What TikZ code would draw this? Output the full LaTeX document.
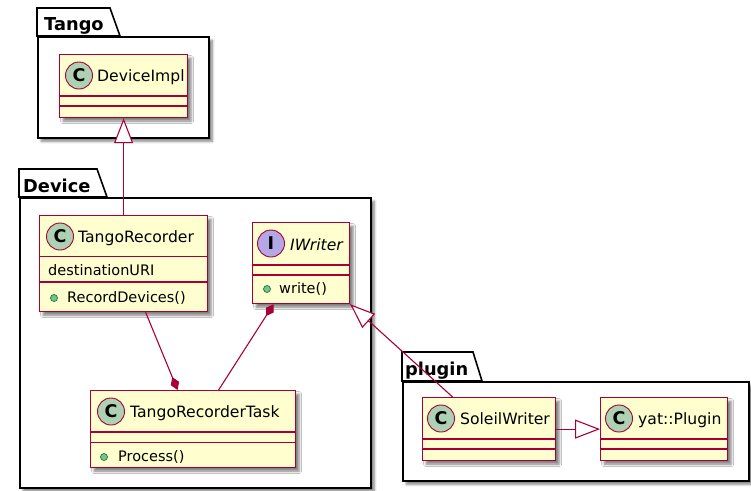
\documentclass[tikz,border=0pt]{standalone}
\usepackage{fontspec}
\setmainfont{DejaVu Sans}
\usetikzlibrary{arrows.meta,shadows.blur,calc}

\definecolor{clsfill}{HTML}{FEFECE}
\definecolor{clsline}{HTML}{A80036}
\definecolor{cspot}{HTML}{ADD1B2}
\definecolor{ispot}{HTML}{B4A7E5}
\definecolor{pubfill}{HTML}{84BE84}
\definecolor{publine}{HTML}{038048}

\begin{document}
\begin{tikzpicture}[x=1pt,y=-1pt,
  softshadow/.style={blur shadow={shadow xshift=3.5pt, shadow yshift=-3.5pt,
      shadow blur radius=2.5pt, shadow opacity=50}},
  pkgbody/.style={draw=black, fill=white, line width=1.6pt, anchor=north west,
      inner sep=0pt, softshadow},
  pkgtab/.style={draw=black, fill=white, line width=1.6pt},
  pkglabel/.style={font=\bfseries\fontsize{17.8}{19}\selectfont, anchor=base west, inner sep=0pt},
  cls/.style={draw=clsline, fill=clsfill, line width=1.2pt, anchor=north west,
      inner sep=0pt, softshadow},
  sep/.style={draw=clsline, line width=1.2pt},
  spot/.style={circle, draw=clsline, line width=0.9pt, minimum size=27pt, inner sep=0pt,
      font=\bfseries\fontsize{17.5}{18}\selectfont},
  clsname/.style={font=\fontsize{15.6}{18}\selectfont, anchor=base west, inner sep=0pt},
  member/.style={font=\fontsize{14.5}{16}\selectfont, anchor=base west, inner sep=0pt},
  pub/.style={circle, draw=publine, fill=pubfill, line width=0.7pt, minimum size=7pt, inner sep=0pt},
  assoc/.style={draw=clsline, line width=1.1pt},
  gen/.style={assoc, -{Triangle[fill=white, length=25pt, width=19pt]}},
  comp/.style={assoc, -{Diamond[length=14pt, width=9pt]}},
]
\useasboundingbox (0,0) rectangle (751,490);

% ---------- packages ----------
\draw[pkgtab] (37,36) -- (37,8) -- (110,8) -- (120,36) -- cycle;
\node[pkgbody, minimum width=171pt, minimum height=101pt] (pkgTango) at (37,36) {};
\node[pkglabel] (lblTango) at (44,30) {Tango};

\draw[pkgtab] (19,197) -- (19,169) -- (97,169) -- (107,197) -- cycle;
\node[pkgbody, minimum width=351pt, minimum height=290pt] (pkgDevice) at (19,197) {};
\node[pkglabel] (lblDevice) at (23,192) {Device};

\draw[pkgtab] (402,381) -- (402,352) -- (473,352) -- (482,381) -- cycle;
\node[pkgbody, minimum width=346pt, minimum height=99pt] (pkgPlugin) at (402,381) {};
\node[pkglabel] (lblPlugin) at (405,375) {plugin};

% ---------- classes ----------
% DeviceImpl
\node[cls, minimum width=128pt, minimum height=63pt] (di) at (59,54) {};
\draw[sep] ($(di.north west)+(0,42)$) -- ($(di.north east)+(0,42)$);
\draw[sep] ($(di.north west)+(0,52)$) -- ($(di.north east)+(0,52)$);
\node[spot, fill=cspot] (diSpot) at ($(di.north west)+(20,21.5)$) {C};
\node[clsname] (diName) at ($(di.north west)+(38,27.5)$) {DeviceImpl};

% TangoRecorder
\node[cls, minimum width=168pt, minimum height=96pt] (tr) at (39,215) {};
\draw[sep] ($(tr.north west)+(0,41.5)$) -- ($(tr.north east)+(0,41.5)$);
\draw[sep] ($(tr.north west)+(0,67)$) -- ($(tr.north east)+(0,67)$);
\node[spot, fill=cspot] (trSpot) at ($(tr.north west)+(21,21.5)$) {C};
\node[clsname] (trName) at ($(tr.north west)+(39,27.5)$) {TangoRecorder};
\node[member] (trAttr) at ($(tr.north west)+(9,60)$) {destinationURI};
\node[pub] (trDot) at ($(tr.north west)+(15,83)$) {};
\node[member] (trOp) at ($(tr.north west)+(28,87.5)$) {RecordDevices()};

% IWriter
\node[cls, minimum width=97pt, minimum height=81pt] (iw) at (252,222) {};
\draw[sep] ($(iw.north west)+(0,43)$) -- ($(iw.north east)+(0,43)$);
\draw[sep] ($(iw.north west)+(0,53)$) -- ($(iw.north east)+(0,53)$);
\node[spot, fill=ispot] (iwSpot) at ($(iw.north west)+(19,21.5)$) {I};
\node[clsname, font=\itshape\fontsize{15.6}{18}\selectfont] (iwName) at ($(iw.north west)+(38,28)$) {IWriter};
\node[pub] (iwDot) at ($(iw.north west)+(15,67)$) {};
\node[member] (iwOp) at ($(iw.north west)+(27,71.5)$) {write()};

% TangoRecorderTask
\node[cls, minimum width=205pt, minimum height=77pt] (trt) at (90,390) {};
\draw[sep] ($(trt.north west)+(0,42)$) -- ($(trt.north east)+(0,42)$);
\draw[sep] ($(trt.north west)+(0,52.5)$) -- ($(trt.north east)+(0,52.5)$);
\node[spot, fill=cspot] (trtSpot) at ($(trt.north west)+(21,21.5)$) {C};
\node[clsname] (trtName) at ($(trt.north west)+(40,27.5)$) {TangoRecorderTask};
\node[pub] (trtDot) at ($(trt.north west)+(14,67)$) {};
\node[member] (trtOp) at ($(trt.north west)+(28,71.5)$) {Process()};

% SoleilWriter
\node[cls, minimum width=133pt, minimum height=63pt] (sw) at (422,397) {};
\draw[sep] ($(sw.north west)+(0,42)$) -- ($(sw.north east)+(0,42)$);
\draw[sep] ($(sw.north west)+(0,52)$) -- ($(sw.north east)+(0,52)$);
\node[spot, fill=cspot] (swSpot) at ($(sw.north west)+(19,21.5)$) {C};
\node[clsname] (swName) at ($(sw.north west)+(38,27.5)$) {SoleilWriter};

% yat::Plugin
\node[cls, minimum width=127pt, minimum height=63pt] (yp) at (600,397) {};
\draw[sep] ($(yp.north west)+(0,42)$) -- ($(yp.north east)+(0,42)$);
\draw[sep] ($(yp.north west)+(0,52)$) -- ($(yp.north east)+(0,52)$);
\node[spot, fill=cspot] (ypSpot) at ($(yp.north west)+(19,21.5)$) {C};
\node[clsname] (ypName) at ($(yp.north west)+(38,27.5)$) {yat::Plugin};

% ---------- relations ----------
\draw[gen] (tr.north) -- (di.south);
\draw[comp] ($(tr.south)+(22,0)$) -- ($(trt.north)+(-15.5,0)$);
\draw[comp] ($(trt.north)+(25.5,0)$) -- ($(iw.south)+(-27.5,0)$);
\draw[gen] ($(sw.north)+(-36.5,0)$) -- (iw.south east);
\draw[gen] (sw.east) -- (yp.west);
\end{tikzpicture}
\end{document}
